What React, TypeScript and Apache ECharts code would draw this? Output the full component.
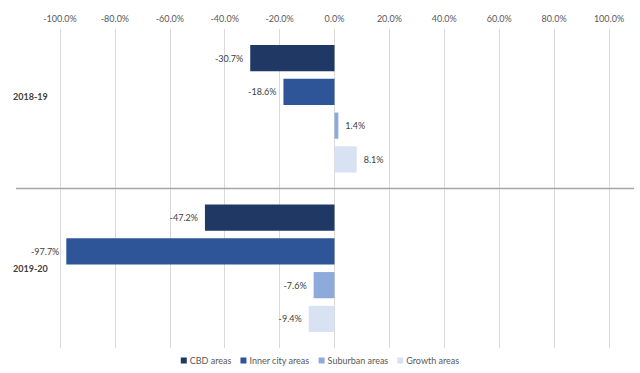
import React, { useEffect, useRef } from "react";
import * as echarts from "echarts";

const categories = ["2018-19", "2019-20"];
const seriesNames = ["CBD areas", "Inner city areas", "Suburban areas", "Growth areas"];
const cbd = [-30.7, -47.2];
const innerCity = [-18.6, -97.7];
const suburban = [1.4, -7.6];
const growth = [8.1, -9.4];
const xTicks = { min: -100, max: 100, interval: 20 };
const colors = ["#203864", "#2e5597", "#8eaadb", "#d9e2f3"];

const FONT = "Lato, 'Open Sans', sans-serif";

export default function App() {
  const ref = useRef<HTMLDivElement>(null);
  useEffect(() => {
    document.body.style.margin = "0";
    const chart = echarts.init(ref.current!, null, { renderer: "svg" });
    const values = [cbd, innerCity, suburban, growth];
    const mk = (i: number) => ({
      name: seriesNames[i],
      type: "bar",
      barGap: "29%",
      barCategoryGap: "20%",
      itemStyle: { color: colors[i] },
      data: values[i].map((v) => ({
        value: v,
        label: { position: v < 0 ? "left" : "right" },
      })),
      label: {
        show: true,
        distance: 7,
        color: "#404040",
        fontSize: 9,
        fontFamily: FONT,
        formatter: (p: any) => p.value.toFixed(1) + "%",
      },
    });
    chart.setOption({
      animation: false,
      textStyle: { fontFamily: FONT },
      grid: { left: 60, right: 31, top: 29, bottom: 25, containLabel: false },
      xAxis: {
        type: "value",
        position: "top",
        min: xTicks.min,
        max: xTicks.max,
        interval: xTicks.interval,
        axisLine: { show: false },
        axisTick: { show: false },
        splitLine: { show: true, lineStyle: { color: "#d9d9d9", width: 1 } },
        axisLabel: {
          color: "#595959",
          fontSize: 9,
          fontFamily: FONT,
          margin: 6,
          formatter: (v: number) => v.toFixed(1) + "%",
        },
      },
      yAxis: {
        type: "category",
        data: categories,
        inverse: true,
        axisLine: { show: false },
        axisTick: { show: false },
        axisLabel: {
          align: "left",
          margin: 47,
          color: "#404040",
          fontSize: 9,
          fontWeight: "bold",
          fontFamily: FONT,
          formatter: (v: string, i: number) => (i === 0 ? "{a|" + v + "}" : "{b|" + v + "}"),
          rich: {
            a: { padding: [0, 0, 24, 0], fontSize: 9, fontWeight: "bold", color: "#404040", fontFamily: FONT },
            b: { padding: [0, 0, 0, 0], fontSize: 9, fontWeight: "bold", color: "#404040", fontFamily: FONT },
          },
        },
      },
      legend: {
        bottom: 3,
        left: "center",
        itemWidth: 6,
        itemHeight: 6,
        itemGap: 9,
        icon: "rect",
        textStyle: { color: "#595959", fontSize: 9, fontFamily: FONT, padding: [0, 0, 0, -2] },
        data: seriesNames,
      },
      series: [0, 1, 2, 3].map(mk),
    });
    const y0 = chart.convertToPixel({ yAxisIndex: 0 }, categories[0]) as number;
    const y1 = chart.convertToPixel({ yAxisIndex: 0 }, categories[1]) as number;
    const ymid = (y0 + y1) / 2;
    chart.setOption({
      graphic: [
        {
          type: "line",
          shape: { x1: 16, y1: ymid, x2: 634, y2: ymid },
          style: { stroke: "#a6a6a6", lineWidth: 1.5 },
          z: 10,
        },
      ],
    });
    return () => chart.dispose();
  }, []);
  return <div ref={ref} style={{ width: 640, height: 373 }} />;
}
